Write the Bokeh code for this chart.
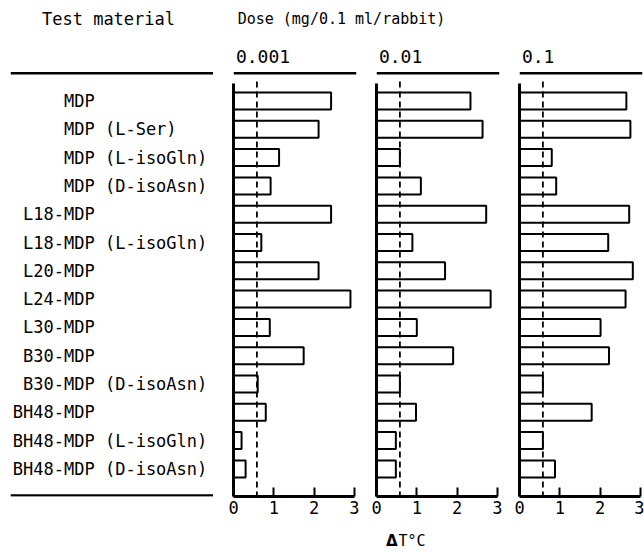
from bokeh.plotting import figure
from bokeh.layouts import column, row
from bokeh.models import Range1d, Span, FixedTicker, LinearAxis
from bokeh.core.properties import value
from bokeh.embed import file_html
from bokeh.resources import INLINE

# ---------------- data ----------------
materials = ["MDP", "MDP (L-Ser)", "MDP (L-isoGln)", "MDP (D-isoAsn)",
             "L18-MDP", "L18-MDP (L-isoGln)", "L20-MDP", "L24-MDP", "L30-MDP",
             "B30-MDP", "B30-MDP (D-isoAsn)", "BH48-MDP",
             "BH48-MDP (L-isoGln)", "BH48-MDP (D-isoAsn)"]
doses = ["0.001", "0.01", "0.1"]
dT_0001 = [2.42, 2.11, 1.13, 0.92, 2.42, 0.69, 2.11, 2.90, 0.90, 1.74, 0.60, 0.80, 0.20, 0.30]
dT_001 = [2.33, 2.63, 0.58, 1.10, 2.72, 0.89, 1.70, 2.83, 1.00, 1.90, 0.58, 0.98, 0.48, 0.48]
dT_01 = [2.65, 2.75, 0.80, 0.91, 2.72, 2.20, 2.81, 2.63, 2.01, 2.22, 0.58, 1.79, 0.58, 0.88]
threshold = 0.58
x_ticks = [0, 1, 2, 3]
header_left = "Test material"
header_dose = "Dose (mg/0.1 ml/rabbit)"
x_title_sym = "Δ"
x_title_rest = "T°C"

# ---------------- layout constants ----------------
FONT = "DejaVu Sans Mono"
SLOT = 28.3      # px per category
FIRST = 100.5    # page y of first category centre
TOP = 44         # page y of frame top
BOT = 496        # page y of frame bottom (x axis)
ROW_TOP = 40
ROW_H = 486
FOOT_H = 24


def yi(px):
    return (px - FIRST) / SLOT


idx = list(range(len(materials)))
yr = Range1d(start=yi(BOT), end=yi(TOP))

# header
hdr = figure(width=644, height=ROW_TOP, x_range=Range1d(0, 644), y_range=Range1d(ROW_TOP, 0),
             x_axis_type=None, y_axis_type=None, toolbar_location=None,
             output_backend="svg", min_border=0, outline_line_color=None, title=None)
hdr.text(x=[108], y=[18.5], text=[header_left], text_font=value(FONT), text_font_size="17px",
         text_align="center", text_baseline="middle", text_color="black")
hdr.text(x=[341], y=[18.5], text=[header_dose], text_font=value(FONT), text_font_size="15px",
         text_align="center", text_baseline="middle", text_color="black")

# label column
lab = figure(width=213, height=ROW_H, x_range=Range1d(10, 213), y_range=yr,
             x_axis_type=None, y_axis_type=None, toolbar_location=None,
             output_backend="svg", outline_line_color=None, title=None,
             min_border_left=10, min_border_right=0, min_border_top=TOP - ROW_TOP,
             min_border_bottom=ROW_TOP + ROW_H - BOT)
prefix = [m[:m.index("MDP")] for m in materials]
rest = [m[m.index("MDP"):] for m in materials]
lab.text(x=[63.5] * len(idx), y=idx, text=prefix, text_font=value(FONT), text_font_size="17px",
         text_align="right", text_baseline="middle", text_color="black")
lab.text(x=[63.5] * len(idx), y=idx, text=rest, text_font=value(FONT), text_font_size="17px",
         text_align="left", text_baseline="middle", text_color="black")
lab.add_layout(Span(location=yi(72.7), dimension="width", line_color="black", line_width=2.5))
lab.add_layout(Span(location=yi(495), dimension="width", line_color="black", line_width=2.5))

panels = []
specs = [(dT_0001, 150, 20, 7), (dT_001, 143, 13, 7), (dT_01, 138, 13, 2)]
for (vals, w, bl, br), dose in zip(specs, doses):
    p = figure(width=w, height=ROW_H, x_range=Range1d(0, 3.05), y_range=yr,
               x_axis_type=None, y_axis_type=None, toolbar_location=None,
               output_backend="svg", outline_line_color=None, title=None,
               min_border_left=bl, min_border_right=br, min_border_top=TOP - ROW_TOP,
               min_border_bottom=ROW_TOP + ROW_H - BOT)
    xa = LinearAxis(ticker=FixedTicker(ticks=x_ticks), bounds=(0, 3),
                    axis_line_width=3, axis_line_color="black",
                    major_tick_in=9, major_tick_out=0, major_tick_line_width=2,
                    major_tick_line_color="black", minor_tick_line_color=None,
                    major_label_text_font=FONT, major_label_text_font_size="17px",
                    major_label_text_color="black", major_label_standoff=4)
    p.add_layout(xa, "below")
    ya = LinearAxis(ticker=FixedTicker(ticks=[]), bounds=(yi(83), yi(BOT)),
                    axis_line_width=3, axis_line_color="black",
                    major_tick_in=0, major_tick_out=0, major_tick_line_color=None,
                    minor_tick_line_color=None, major_label_text_font_size="0px",
                    major_label_standoff=0)
    p.add_layout(ya, "left")
    p.hbar(y=idx, left=0, right=vals, height=0.6, fill_color="white",
           line_color="black", line_width=2)
    p.segment(x0=[threshold], y0=[yi(81)], x1=[threshold], y1=[yi(BOT)],
              line_color="black", line_width=1.8, line_dash="6 4")
    p.add_layout(Span(location=yi(72.7), dimension="width", line_color="black", line_width=2.5))
    p.text(x=[0.06], y=[yi(56)], text=[dose], text_font=value(FONT), text_font_size="18px",
           text_align="left", text_baseline="middle", text_color="black")
    panels.append(p)

foot_top = ROW_TOP + ROW_H
ftr = figure(width=644, height=FOOT_H, x_range=Range1d(0, 644),
             y_range=Range1d(foot_top + FOOT_H, foot_top),
             x_axis_type=None, y_axis_type=None, toolbar_location=None,
             output_backend="svg", min_border=0, outline_line_color=None, title=None)
ftr.text(x=[397], y=[540], text=[x_title_sym], text_font=value("DejaVu Sans"),
         text_font_size="15px", text_font_style="bold", text_align="right",
         text_baseline="middle", text_color="black")
ftr.text(x=[398], y=[540], text=[x_title_rest], text_font=value(FONT),
         text_font_size="15px", text_align="left", text_baseline="middle", text_color="black")

layout = column(hdr, row(lab, *panels), ftr)
open("out.html", "w").write(file_html(layout, INLINE))
